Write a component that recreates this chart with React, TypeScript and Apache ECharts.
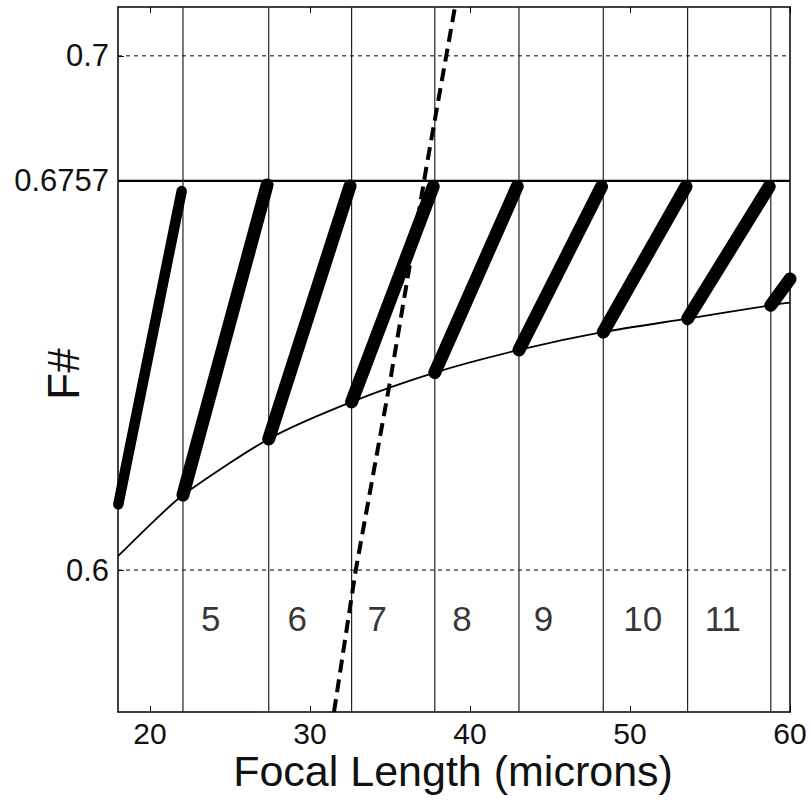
import React, { useEffect, useRef } from 'react';
import * as echarts from 'echarts';

// Axis extents and ticks
const xRange = [18, 60];
const yRange = [0.5724, 0.7095];
const xTicks = [20, 30, 40, 50, 60];
const yTicks = [0.6, 0.6757, 0.7];
const gridLineValues = [0.6, 0.7];
const limitF = 0.6757;

// Titles
const xTitle = 'Focal Length (microns)';
const yTitle = 'F#';

// Region boundaries (focal lengths) and region labels
const boundaries = [22.06, 27.42, 32.6, 37.8, 43.06, 48.33, 53.6, 58.8];
const regionLabels = ['5', '6', '7', '8', '9', '10', '11'];
const regionLabelX = [23.8, 29.2, 34.2, 39.5, 44.6, 50.8, 55.8];
const regionLabelY = 0.5905;

// Lower envelope curve
const curveX = [18, 20, 22.06, 27.42, 32.6, 37.8, 43.06, 48.33, 53.6, 58.8, 60];
const curveY = [0.6027, 0.6088, 0.6146, 0.6255, 0.6327, 0.6384, 0.6428, 0.6463, 0.6489, 0.6515, 0.652];

// Thick segments (start/end)
const segStartX = [18.02, 22.06, 27.42, 32.6, 37.8, 43.06, 48.33, 53.6, 58.8];
const segStartY = [0.6128, 0.6146, 0.6255, 0.6327, 0.6384, 0.6428, 0.6463, 0.6489, 0.6515];
const segEndX = [21.98, 27.32, 32.5, 37.7, 42.95, 48.22, 53.5, 58.7, 60.0];
const segEndY = [0.6737, 0.6749, 0.6747, 0.6746, 0.6746, 0.6746, 0.6746, 0.6746, 0.6566];

// Dashed curve
const dashX = [31.5, 32.86, 35.0, 37.3, 39.06];
const dashY = [0.5724, 0.6, 0.6366, 0.6788, 0.7095];

const FONT = 'Liberation Sans, Arial, Helvetica, sans-serif';

export default function App() {
  const ref = useRef<HTMLDivElement>(null);
  useEffect(() => {
    if (!ref.current) return;
    const chart = echarts.init(ref.current, null, { renderer: 'svg' });
    const series: any[] = [];

    gridLineValues.forEach((v) => {
      series.push({
        type: 'line', symbol: 'none', silent: true, z: 1,
        data: [[xRange[0], v], [xRange[1], v]],
        lineStyle: { color: '#000', width: 1, type: [4, 4] },
      });
    });

    series.push({
      type: 'line', symbol: 'none', silent: true, z: 2,
      data: [[xRange[0], limitF], [xRange[1], limitF]],
      lineStyle: { color: '#000', width: 2.2 },
    });

    boundaries.forEach((b) => {
      series.push({
        type: 'line', symbol: 'none', silent: true, z: 2,
        data: [[b, yRange[0]], [b, yRange[1]]],
        lineStyle: { color: '#222', width: 1.2 },
      });
    });

    series.push({
      type: 'line', symbol: 'none', smooth: 0.25, silent: true, z: 3,
      data: curveX.map((x, i) => [x, curveY[i]]),
      lineStyle: { color: '#000', width: 1.8 },
    });

    segStartX.forEach((x, i) => {
      series.push({
        type: 'line', symbol: 'none', silent: true, z: 4, clip: false,
        data: [[x, segStartY[i]], [segEndX[i], segEndY[i]]],
        lineStyle: { color: '#000', width: i === 0 ? 10.5 : 13, cap: 'round' },
      });
    });

    series.push({
      type: 'line', symbol: 'none', silent: true, z: 5,
      data: dashX.map((x, i) => [x, dashY[i]]),
      lineStyle: { color: '#000', width: 4, type: [13, 7] },
    });

    series.push({
      type: 'scatter', silent: true, z: 6,
      symbolSize: 1,
      itemStyle: { color: 'rgba(0,0,0,0)' },
      data: regionLabels.map((t, i) => ({
        value: [regionLabelX[i], regionLabelY],
        label: { show: true, formatter: t },
      })),
      label: {
        show: true, position: 'inside', color: '#000', textBorderWidth: 0,
        fontSize: 35, fontFamily: FONT,
      },
    });

    const tickCommon = { show: true, inside: true, length: 6, lineStyle: { color: '#000', width: 1 } };

    chart.setOption({
      animation: false,
      backgroundColor: '#fff',
      grid: { left: 118, right: 21, top: 7, bottom: 98, show: false, containLabel: false, outerBoundsMode: 'none' },
      graphic: [
        {
          type: 'text', x: 63, y: 374, rotation: Math.PI / 2,
          style: {
            text: yTitle, fill: '#111', font: `44px ${FONT}`,
            align: 'center', verticalAlign: 'middle',
          },
        },
        {
          type: 'text', x: 453, y: 771,
          style: {
            text: xTitle, fill: '#111', font: `43px ${FONT}`,
            align: 'center', verticalAlign: 'middle',
          },
        },
      ],
      xAxis: [
        {
          type: 'value', position: 'bottom', min: xRange[0], max: xRange[1],
          axisLine: { show: true, onZero: false, lineStyle: { color: '#000', width: 1.5 } },
          axisTick: { ...tickCommon, customValues: xTicks },
          axisLabel: { customValues: xTicks, fontSize: 30, color: '#111', fontFamily: FONT, margin: 6 },
          splitLine: { show: false },
        },
        {
          type: 'value', position: 'top', min: xRange[0], max: xRange[1],
          axisLine: { show: true, onZero: false, lineStyle: { color: '#000', width: 1.5 } },
          axisTick: { ...tickCommon, customValues: xTicks },
          axisLabel: { show: false },
          splitLine: { show: false },
        },
      ],
      yAxis: [
        {
          type: 'value', position: 'left', min: yRange[0], max: yRange[1],
          axisLine: { show: true, onZero: false, lineStyle: { color: '#000', width: 1.5 } },
          axisTick: { ...tickCommon, customValues: yTicks },
          axisLabel: {
            customValues: yTicks, fontSize: 31, color: '#111', fontFamily: FONT, margin: 9,
            formatter: (v: number) => String(v),
          },
          splitLine: { show: false },
        },
        {
          type: 'value', position: 'right', min: yRange[0], max: yRange[1],
          axisLine: { show: true, onZero: false, lineStyle: { color: '#000', width: 1.5 } },
          axisTick: { show: false },
          axisLabel: { show: false },
          splitLine: { show: false },
        },
      ],
      series,
    });
    return () => chart.dispose();
  }, []);
  return (
    <div
      ref={ref}
      style={{ position: 'fixed', left: 0, top: 0, width: 811, height: 810, background: '#fff' }}
    />
  );
}
